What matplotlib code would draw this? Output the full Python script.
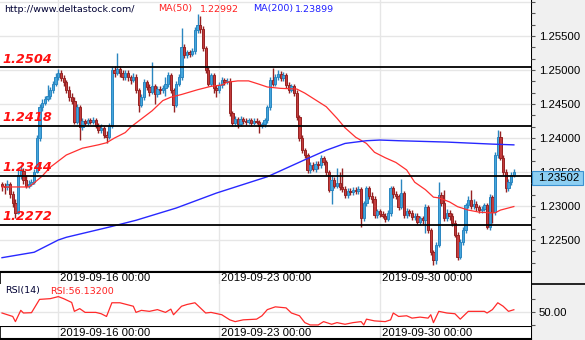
import matplotlib
matplotlib.use("Agg")
import matplotlib.pyplot as plt
from matplotlib.ticker import MultipleLocator, FixedLocator, FuncFormatter
from matplotlib.patches import Rectangle
from matplotlib.transforms import blended_transform_factory

# EURUSD-style 2H candles, Sep 12 - Oct 3 2019
first_open = 1.2332
close = [
    1.2330, 1.2328, 1.2332, 1.2318, 1.2305, 1.2290, 1.2345, 1.2352, 1.2338, 1.2330,
    1.2333, 1.2336, 1.2350, 1.2400, 1.2446, 1.2452, 1.2458, 1.2462, 1.2470, 1.2480,
    1.2490, 1.2496, 1.2488, 1.2482, 1.2470, 1.2460, 1.2455, 1.2424, 1.2445, 1.2416,
    1.2425, 1.2422, 1.2426, 1.2424, 1.2427, 1.2418, 1.2412, 1.2415, 1.2405, 1.2402,
    1.2418, 1.2500, 1.2496, 1.2502, 1.2495, 1.2490, 1.2496, 1.2489, 1.2486, 1.2490,
    1.2470, 1.2449, 1.2460, 1.2483, 1.2475, 1.2468, 1.2476, 1.2465, 1.2472, 1.2470,
    1.2474, 1.2479, 1.2493, 1.2470, 1.2449, 1.2480, 1.2490, 1.2534, 1.2522, 1.2526,
    1.2523, 1.2528, 1.2559, 1.2566, 1.2560, 1.2532, 1.2500, 1.2480, 1.2492, 1.2474,
    1.2470, 1.2478, 1.2485, 1.2482, 1.2484, 1.2437, 1.2422, 1.2428, 1.2420, 1.2428,
    1.2425, 1.2423, 1.2426, 1.2422, 1.2425, 1.2424, 1.2418, 1.2420, 1.2426, 1.2445,
    1.2485, 1.2480, 1.2490, 1.2494, 1.2488, 1.2493, 1.2478, 1.2471, 1.2476, 1.2466,
    1.2431, 1.2400, 1.2382, 1.2375, 1.2353, 1.2360, 1.2355, 1.2362, 1.2360, 1.2371,
    1.2364, 1.2350, 1.2324, 1.2338, 1.2330, 1.2334, 1.2328, 1.2325, 1.2316, 1.2322,
    1.2320, 1.2324, 1.2322, 1.2325, 1.2282, 1.2304, 1.2326, 1.2315, 1.2310, 1.2287,
    1.2292, 1.2288, 1.2286, 1.2281, 1.2290, 1.2326, 1.2318, 1.2314, 1.2299, 1.2319,
    1.2287, 1.2292, 1.2290, 1.2284, 1.2286, 1.2276, 1.2282, 1.2279, 1.2299, 1.2265,
    1.2232, 1.2221, 1.2243, 1.2316, 1.2305, 1.2282, 1.2290, 1.2285, 1.2275, 1.2258,
    1.2225, 1.2247, 1.2265, 1.2301, 1.2309, 1.2300, 1.2303, 1.2298, 1.2294, 1.2296,
    1.2301, 1.2269, 1.2313, 1.2291, 1.2375, 1.2401, 1.2371, 1.2350, 1.2326, 1.2335,
    1.2346, 1.23502,
]
high = [
    1.2336, 1.2334, 1.2338, 1.2335, 1.2322, 1.2310, 1.2355, 1.2360, 1.2356, 1.2345,
    1.2338, 1.2340, 1.2354, 1.2404, 1.2450, 1.2458, 1.2462, 1.2478, 1.2475, 1.2484,
    1.2496, 1.2502, 1.2500, 1.2492, 1.2485, 1.2476, 1.2466, 1.2460, 1.2450, 1.2448,
    1.2430, 1.2428, 1.2430, 1.2429, 1.2431, 1.2430, 1.2422, 1.2420, 1.2418, 1.2410,
    1.2422, 1.2505, 1.2506, 1.2525, 1.2506, 1.2500, 1.2500, 1.2500, 1.2493, 1.2495,
    1.2494, 1.2474, 1.2465, 1.2487, 1.2486, 1.2480, 1.2512, 1.2480, 1.2476, 1.2476,
    1.2478, 1.2490, 1.2497, 1.2496, 1.2474, 1.2484, 1.2494, 1.2562, 1.2538, 1.2530,
    1.2530, 1.2532, 1.2563, 1.2582, 1.2580, 1.2564, 1.2536, 1.2504, 1.2496, 1.2495,
    1.2478, 1.2482, 1.2489, 1.2488, 1.2488, 1.2488, 1.2440, 1.2432, 1.2431, 1.2432,
    1.2431, 1.2429, 1.2430, 1.2429, 1.2429, 1.2430, 1.2427, 1.2424, 1.2430, 1.2449,
    1.2489, 1.2503, 1.2494, 1.2500, 1.2498, 1.2497, 1.2496, 1.2482, 1.2480, 1.2479,
    1.2470, 1.2434, 1.2404, 1.2386, 1.2378, 1.2364, 1.2364, 1.2366, 1.2366, 1.2375,
    1.2374, 1.2367, 1.2353, 1.2345, 1.2342, 1.2356, 1.2350, 1.2356, 1.2330, 1.2326,
    1.2326, 1.2328, 1.2328, 1.2330, 1.2328, 1.2308, 1.2330, 1.2330, 1.2320, 1.2314,
    1.2296, 1.2296, 1.2292, 1.2290, 1.2294, 1.2330, 1.2330, 1.2322, 1.2318, 1.2340,
    1.2322, 1.2297, 1.2296, 1.2294, 1.2290, 1.2290, 1.2286, 1.2286, 1.2303, 1.2302,
    1.2268, 1.2236, 1.2247, 1.2335, 1.2320, 1.2324, 1.2295, 1.2294, 1.2289, 1.2279,
    1.2262, 1.2251, 1.2269, 1.2305, 1.2314, 1.2324, 1.2310, 1.2307, 1.2302, 1.2300,
    1.2305, 1.2304, 1.2317, 1.2316, 1.2379, 1.2412, 1.2410, 1.2375, 1.2354, 1.2339,
    1.2350, 1.2354,
]
low = [
    1.2322, 1.2318, 1.2324, 1.2312, 1.2298, 1.2282, 1.2288, 1.2340, 1.2332, 1.2326,
    1.2326, 1.2330, 1.2332, 1.2348, 1.2396, 1.2440, 1.2448, 1.2454, 1.2458, 1.2466,
    1.2476, 1.2486, 1.2484, 1.2476, 1.2466, 1.2455, 1.2450, 1.2420, 1.2420, 1.2397,
    1.2412, 1.2418, 1.2418, 1.2420, 1.2420, 1.2414, 1.2408, 1.2408, 1.2400, 1.2393,
    1.2398, 1.2415, 1.2490, 1.2492, 1.2490, 1.2485, 1.2486, 1.2484, 1.2480, 1.2482,
    1.2466, 1.2438, 1.2445, 1.2456, 1.2470, 1.2462, 1.2464, 1.2450, 1.2460, 1.2465,
    1.2466, 1.2462, 1.2475, 1.2466, 1.2438, 1.2445, 1.2476, 1.2486, 1.2518, 1.2518,
    1.2519, 1.2520, 1.2524, 1.2555, 1.2555, 1.2528, 1.2495, 1.2476, 1.2476, 1.2466,
    1.2460, 1.2466, 1.2474, 1.2478, 1.2479, 1.2433, 1.2418, 1.2418, 1.2415, 1.2417,
    1.2421, 1.2419, 1.2420, 1.2418, 1.2419, 1.2420, 1.2408, 1.2414, 1.2416, 1.2422,
    1.2441, 1.2476, 1.2476, 1.2486, 1.2484, 1.2484, 1.2474, 1.2466, 1.2467, 1.2462,
    1.2427, 1.2396, 1.2378, 1.2370, 1.2348, 1.2349, 1.2351, 1.2350, 1.2355, 1.2356,
    1.2360, 1.2346, 1.2320, 1.2303, 1.2326, 1.2326, 1.2324, 1.2320, 1.2312, 1.2312,
    1.2316, 1.2316, 1.2318, 1.2318, 1.2269, 1.2278, 1.2300, 1.2310, 1.2305, 1.2283,
    1.2283, 1.2284, 1.2282, 1.2277, 1.2278, 1.2286, 1.2312, 1.2310, 1.2294, 1.2296,
    1.2283, 1.2283, 1.2285, 1.2280, 1.2280, 1.2273, 1.2272, 1.2274, 1.2260, 1.2260,
    1.2228, 1.2213, 1.2215, 1.2240, 1.2300, 1.2278, 1.2278, 1.2280, 1.2271, 1.2254,
    1.2221, 1.2222, 1.2243, 1.2261, 1.2297, 1.2296, 1.2296, 1.2293, 1.2290, 1.2290,
    1.2292, 1.2266, 1.2265, 1.2275, 1.2287, 1.2371, 1.2367, 1.2346, 1.2320, 1.2322,
    1.2331, 1.2342,
]

# moving averages (sampled along the curve)
ma50_idx = [0, 10, 12, 15, 18, 21, 24, 30, 36, 39, 42, 46, 48, 52, 56, 60, 63, 67, 73, 78,
            82, 84, 88, 92, 96, 99, 104, 110, 113, 117, 121, 125, 128, 132, 136, 139, 143, 147, 151, 154,
            158, 161, 163, 167, 170, 174, 178, 182, 184, 186, 191]
ma50_val = [1.2328, 1.2328, 1.2334, 1.2344, 1.2357, 1.2366, 1.2375, 1.2385, 1.2390, 1.2393,
            1.2400, 1.2408, 1.2416, 1.2428, 1.2440, 1.2455, 1.2460, 1.2464, 1.2471, 1.2476,
            1.2478, 1.2482, 1.2484, 1.2484, 1.2479, 1.2475, 1.2473, 1.2472, 1.2466, 1.2456,
            1.2446, 1.2429, 1.2415, 1.2401, 1.2392, 1.2379, 1.2371, 1.2364, 1.2353, 1.2335,
            1.2324, 1.2313, 1.2312, 1.2306, 1.2299, 1.2294, 1.2291, 1.2290, 1.2290, 1.2294,
            1.22992]
ma200_idx = [0, 12, 21, 24, 40, 50, 65, 80, 99, 113, 121, 128, 136, 141, 148, 166, 183, 191]
ma200_val = [1.2224, 1.2232, 1.2250, 1.2254, 1.2269, 1.2279, 1.2297, 1.2319, 1.2343, 1.2368,
             1.2382, 1.2392, 1.2396, 1.2397, 1.2396, 1.2394, 1.2391, 1.23899]

rsi_idx = [0, 4, 5, 7, 8, 11, 14, 18, 21, 23, 26, 27, 29, 31, 35, 37, 39, 41, 44, 49,
           50, 52, 55, 58, 61, 63, 64, 67, 69, 72, 74, 76, 78, 82, 85, 87, 90, 95, 97, 99,
           102, 106, 108, 111, 113, 115, 118, 120, 123, 125, 128, 131, 134, 135, 136, 139, 143, 145, 146, 148,
           151, 153, 156, 159, 160, 161, 163, 166, 169, 171, 174, 176, 180, 181, 183, 185, 187, 189, 191]
rsi_val = [48.6, 40.6, 28.7, 54.7, 48.6, 49.3, 80.0, 81.7, 86.4, 81.7,
           72.9, 52.4, 58.7, 50.0, 50.0, 46.9, 40.6, 72.2, 72.2, 64.2,
           50.0, 54.7, 52.4, 56.4, 50.0, 57.5, 44.6, 64.2, 68.2, 72.2,
           60.4, 48.6, 50.0, 44.6, 32.8, 28.7, 32.8, 34.4, 42.2, 56.4,
           62.8, 60.4, 48.6, 42.2, 26.4, 21.0, 21.0, 28.7, 22.6, 26.4,
           22.6, 26.4, 28.7, 21.0, 34.4, 30.4, 28.7, 32.8, 48.6, 40.6,
           42.2, 36.8, 39.1, 36.8, 44.6, 26.4, 52.4, 48.6, 46.9, 34.4,
           52.4, 52.4, 52.4, 48.6, 56.4, 72.2, 64.2, 52.4, 56.132]

levels = [1.2504, 1.2418, 1.2344, 1.2272]
date_idx = [21, 81, 141]
date_labels = ["2019-09-16 00:00", "2019-09-23 00:00", "2019-09-30 00:00"]
last_price = 1.23502
ma50_last = 1.22992
ma200_last = 1.23899
rsi_last = 56.132

plt.rcParams["font.family"] = ["Liberation Sans", "DejaVu Sans"]

W, H = 585, 340
fig = plt.figure(figsize=(W / 100, H / 100), dpi=100)


def px_box(x0, y0, x1, y1):
    # pixel rectangle (origin top-left) -> figure fraction
    return [x0 / W, 1 - y1 / H, (x1 - x0) / W, (y1 - y0) / H]


XLIM = (-0.75, 197.4)
GRID = "#e6e6e6"

# right-hand scale panel
panel = fig.add_axes(px_box(531, 0, 585, 340), zorder=0)
panel.set_facecolor("#f0f0f0")
panel.set_xlim(0, 1)
panel.set_ylim(0, 1)
panel.set_xticks([])
panel.set_yticks([])
for s in ["top", "right", "bottom"]:
    panel.spines[s].set_visible(False)
panel.spines["left"].set_linewidth(1.5)
panel.axhline(1 - 284 / H, color="black", lw=1.2)

# price chart
ax = fig.add_axes(px_box(0, 0, 531, 272), zorder=2)
ax.set_xlim(*XLIM)
ax.set_ylim(1.220294, 1.260294)

idx = list(range(len(close)))
opens = [first_open] + close[:-1]
up = [c >= o for o, c in zip(opens, close)]
fill = ["#45a6dc" if u else "#c43c3c" for u in up]
edge = ["#2a86c0" if u else "#962222" for u in up]
bottoms = [min(o, c) for o, c in zip(opens, close)]
heights = [max(abs(c - o), 0.00006) for o, c in zip(opens, close)]

ax.vlines(idx, low, high, colors=edge, lw=1.0, zorder=3)
ax.bar(idx, heights, bottom=bottoms, width=0.85, color=fill, edgecolor=edge,
       linewidth=0.7, zorder=4)

ax.plot(ma50_idx, ma50_val, color="#ff3030", lw=0.9, zorder=5)
ax.plot(ma200_idx, ma200_val, color="#2828ff", lw=1.0, zorder=5)

for lv in levels:
    ax.axhline(lv, color="black", lw=1.3, zorder=6)
    ax.annotate(f"{lv:.4f}", xy=(0, lv), xycoords=("axes fraction", "data"),
                xytext=(2, 3.3), textcoords="offset points", ha="left", va="baseline",
                color="#ff1010", fontsize=9.3, fontweight="bold", fontstyle="italic",
                family="DejaVu Sans", zorder=7)

ax.yaxis.set_major_locator(MultipleLocator(0.005))
ax.yaxis.set_minor_locator(MultipleLocator(0.005 / 3))
ax.yaxis.set_major_formatter(FuncFormatter(lambda v, p: f"{v:.5f}" if v < 1.2575 else ""))
ax.yaxis.tick_right()
ax.tick_params(axis="y", which="both", direction="out", length=3, width=0.8,
               color="#555555", pad=2.5, labelsize=8.2)
ax.xaxis.set_major_locator(FixedLocator(date_idx))
ax.tick_params(axis="x", which="both", length=0, labelbottom=False)
ax.grid(True, which="major", color=GRID, lw=1)
ax.set_axisbelow(True)
for s in ["top", "left", "right"]:
    ax.spines[s].set_visible(False)
ax.spines["bottom"].set_linewidth(1.5)

# last price marker on the scale
bt = blended_transform_factory(fig.transFigure, ax.transData)
box_h = 14 / 6800
box_c = last_price - 6 / 6800
ax.add_patch(Rectangle((532 / W, box_c - box_h / 2), 51 / W, box_h, transform=bt,
                       facecolor="#8dcff2", edgecolor="#3a92d2", lw=0.8,
                       clip_on=False, zorder=10))
ax.text(538 / W, box_c, f"{last_price:.5f}", transform=bt, ha="left", va="center",
        fontsize=8.2, color="black", clip_on=False, zorder=11)


def date_bar(rect):
    d = fig.add_axes(rect, zorder=2)
    d.set_xlim(*XLIM)
    d.set_ylim(0, 1)
    d.set_xticks([])
    d.set_yticks([])
    for s in ["right", "bottom"]:
        d.spines[s].set_visible(False)
    d.spines["top"].set_linewidth(1.5)
    d.spines["left"].set_linewidth(1.2)
    for x, lab in zip(date_idx, date_labels):
        d.axvline(x, color="#d8d8d8", lw=1)
        d.annotate(lab, xy=(x, 0.5), xycoords=("data", "axes fraction"),
                   xytext=(1.2, 0), textcoords="offset points",
                   ha="left", va="center", fontsize=8.2, color="black")
    return d


date_bar(px_box(0, 272, 531, 284))
d2 = date_bar(px_box(0, 326, 531, 339))
d2.spines["bottom"].set_visible(True)
d2.spines["bottom"].set_linewidth(1.5)

# RSI pane
rsi = fig.add_axes(px_box(0, 284, 531, 326), zorder=2)
rsi.set_xlim(*XLIM)
rsi.set_ylim(18.6, 115.5)
rsi.plot(rsi_idx, rsi_val, color="#ff2a2a", lw=0.9, zorder=3)
rsi.axhline(50, color=GRID, lw=1, zorder=1)
for x in date_idx:
    rsi.axvline(x, color=GRID, lw=1, zorder=1)
rsi.yaxis.tick_right()
rsi.yaxis.set_major_locator(FixedLocator([20, 50, 80]))
rsi.yaxis.set_major_formatter(FuncFormatter(lambda v, p: "50.00" if abs(v - 50) < 1e-6 else ""))
rsi.tick_params(axis="y", direction="out", length=3, width=0.8, color="#555555",
                pad=2.5, labelsize=8.2)
rsi.set_xticks([])
for s in rsi.spines.values():
    s.set_visible(False)

# header texts
def label(x, y, s, color):
    fig.text(x / W, 1 - y / H, s, ha="left", va="center", fontsize=6.8,
             color=color, family="DejaVu Sans")


label(4, 9, "http://www.deltastock.com/", "#000033")
label(158, 9, "MA(50)", "#ff2020")
label(200, 9, f"{ma50_last:.5f}", "#ff2020")
label(253, 9, "MA(200)", "#2020ff")
label(295, 9, f"{ma200_last:.5f}", "#2020ff")
label(5, 291, "RSI(14)", "#000033")
label(50, 291, f"RSI:{rsi_last:.5f}", "#ff2020")

fig.savefig("out.png", dpi=100)
